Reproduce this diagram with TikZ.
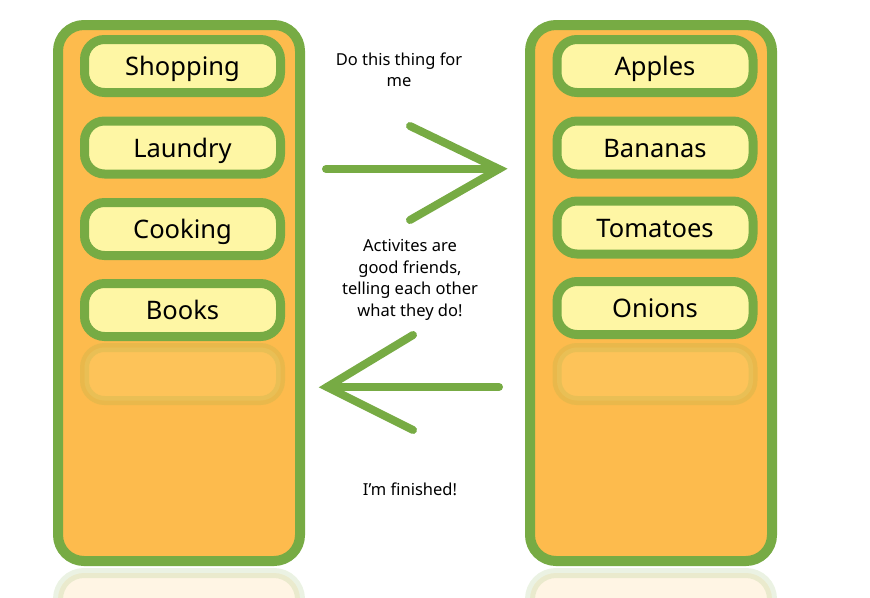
\documentclass[tikz,border=0pt]{standalone}
\usepackage{fontspec}
\setmainfont{Noto Sans}
\definecolor{panelfill}{RGB}{253,187,77}
\definecolor{leaf}{RGB}{119,171,68}
\definecolor{boxfill}{RGB}{254,246,164}
\tikzset{
  panel/.style={draw=leaf, fill=panelfill, line width=10pt, rounded corners=26pt},
  item/.style={draw=leaf, fill=boxfill, line width=9pt, rounded corners=20pt,
    minimum width=196pt, minimum height=53pt, inner sep=0pt,
    text height=19pt, text depth=0pt,
    font=\fontsize{25.5}{30}\selectfont},
  ghost/.style={item, opacity=0.15},
  arrowline/.style={draw=leaf, line width=8pt, line cap=round},
  note/.style={align=center, font=\fontsize{16.5}{21.5}\selectfont, inner sep=0pt}
}
\begin{document}
\begin{tikzpicture}[x=1pt,y=-1pt]
\useasboundingbox (0,0) rectangle (870,597);
% reflections of panels
\begin{scope}
\clip (0,0) rectangle (870,597);
\draw[panel, opacity=0.15] (58,573) rectangle (300,1100);
\draw[panel, opacity=0.15] (530,573) rectangle (772,1100);
\end{scope}
% panels
\draw[panel] (58,25) rectangle (300,561) node[pos=0, inner sep=0pt] (lp) {};
\draw[panel] (530,25) rectangle (772,561) node[pos=0, inner sep=0pt] (rp) {};
% left items
\node[item] (shop) at (182.5,66) {Shopping};
\node[item] (laun) at (182.5,147.5) {Laundry};
\node[item] (cook) at (182.5,229) {Cooking};
\node[item] (book) at (182.5,310) {Books};
\node[ghost] (lg) at (182.5,374) {};
% right items
\node[item] (appl) at (655,66) {Apples};
\node[item] (bana) at (655,147.5) {Bananas};
\node[item] (toma) at (655,227.5) {Tomatoes};
\node[item] (onio) at (655,308) {Onions};
\node[ghost] (rg) at (655,374) {};
% arrow coordinates
\coordinate (a1s) at (326,169);
\coordinate (a1e) at (499,169);
\coordinate (a1u) at (410,126);
\coordinate (a1d) at (410,220);
\coordinate (a2s) at (499,387);
\coordinate (a2e) at (327,387);
\coordinate (a2u) at (413,335);
\coordinate (a2d) at (413,430);
\draw[arrowline] (a1s) -- (a1e);
\draw[arrowline] (a1u) -- (a1e) -- (a1d);
\draw[arrowline] (a2s) -- (a2e);
\draw[arrowline] (a2u) -- (a2e) -- (a2d);
% notes
\node[note] (n1) at (399,70) {Do this thing for\\me};
\node[note] (n2) at (410,280) {Activites are\\good friends,\\telling each other\\what they do!};
\node[note] (n3) at (410,489) {I'm finished!};
\end{tikzpicture}
\end{document}
